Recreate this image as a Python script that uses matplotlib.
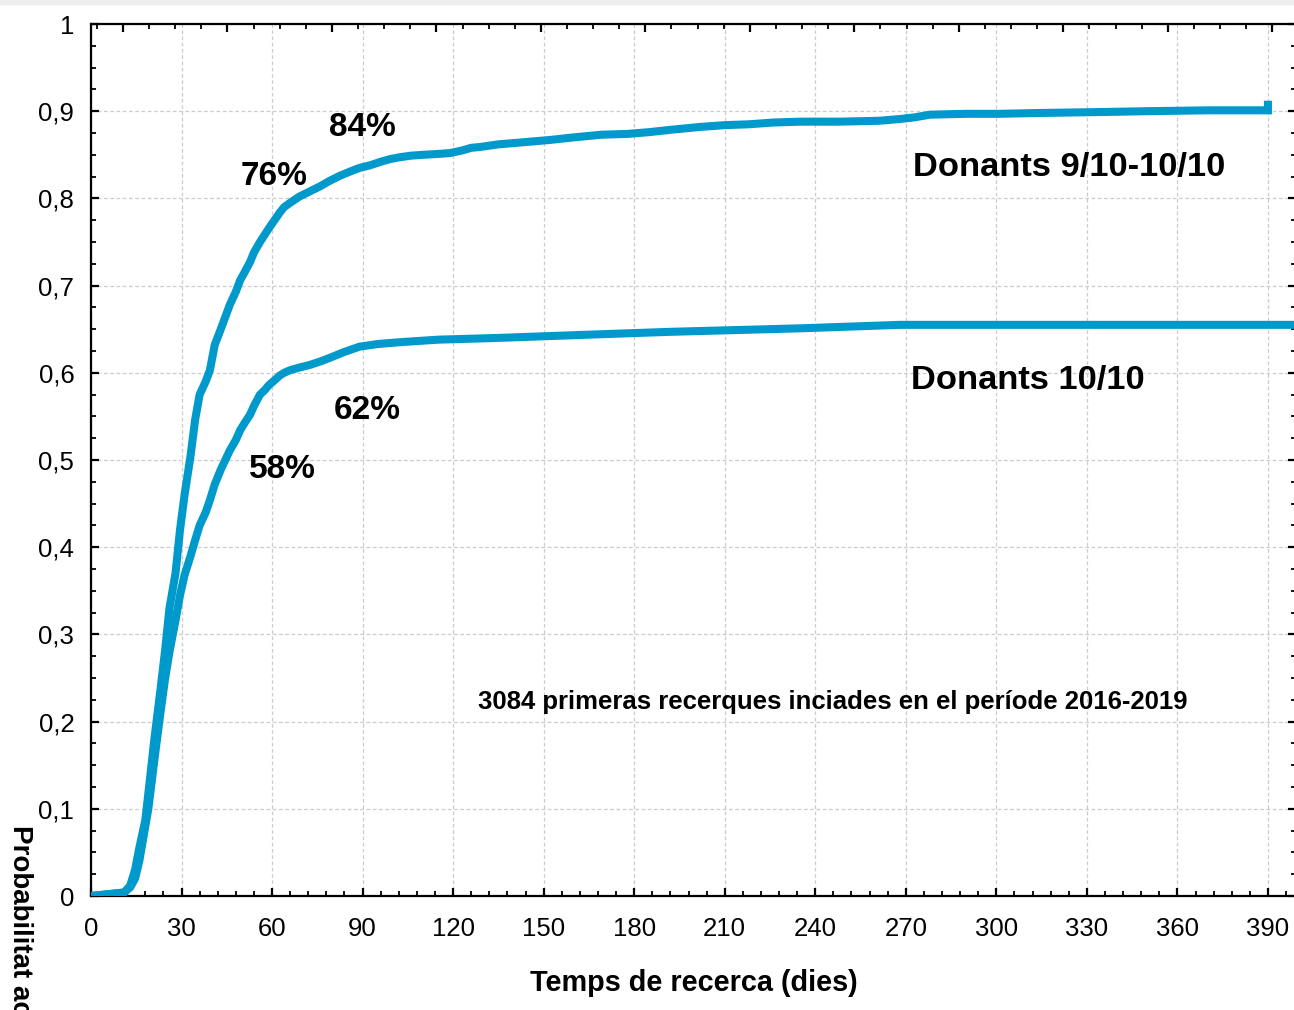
import matplotlib
matplotlib.use("Agg")
import matplotlib.pyplot as plt
from matplotlib.ticker import MultipleLocator, FuncFormatter
from matplotlib.patches import Rectangle

plt.rcParams['font.family'] = ['Liberation Sans', 'DejaVu Sans']

# 1. dades llegides del gràfic (dies, probabilitat acumulada)
dies_9_10 = [0, 11, 13, 14.6, 16, 18, 19.5, 21, 23, 24.5, 26, 28, 29.5, 31, 33, 34.5, 36,
             38, 39.4, 41, 43, 44.5, 46, 48, 49.4, 51, 52.7, 54, 56, 57.5, 59, 61, 62.6, 64, 66,
             69, 72.5, 76, 79, 82.5, 86, 89, 92.5, 96, 99, 102, 106, 110, 115, 119, 123, 126, 129,
             135, 142, 152, 160, 169, 178, 185, 193, 202, 210, 218, 226, 235, 248, 261, 268, 273,
             278, 290, 301, 315, 334, 350, 370, 390, 390]
prob_9_10 = [0, 0.004, 0.012, 0.03, 0.055, 0.087, 0.133, 0.18, 0.236, 0.28, 0.33, 0.37, 0.42,
             0.46, 0.505, 0.546, 0.575, 0.59, 0.603, 0.632, 0.65, 0.664, 0.678, 0.693, 0.706,
             0.716, 0.727, 0.738, 0.75, 0.758, 0.766, 0.776, 0.784, 0.79, 0.795, 0.802, 0.808,
             0.814, 0.82, 0.826, 0.831, 0.835, 0.838, 0.842, 0.845, 0.847, 0.849, 0.85, 0.851,
             0.852, 0.855, 0.858, 0.859, 0.862, 0.864, 0.867, 0.87, 0.873, 0.874, 0.876, 0.879,
             0.882, 0.884, 0.885, 0.887, 0.888, 0.888, 0.889, 0.891, 0.893, 0.896, 0.897, 0.897,
             0.898, 0.899, 0.9, 0.901, 0.901, 0.912]

dies_10_10 = [0, 11, 13, 14.6, 16, 17.5, 19, 21, 23, 24.5, 26, 28, 29.5, 31, 33, 34.5, 36, 38,
              39.4, 41, 43, 44.5, 46, 48, 49.4, 51, 52.7, 54, 56, 57.5, 59, 61, 62.6, 64, 66,
              69, 72.5, 76, 79, 84, 89, 95, 102, 115, 135, 159, 192, 235, 268, 399.3]
prob_10_10 = [0, 0.004, 0.01, 0.02, 0.04, 0.07, 0.1, 0.156, 0.21, 0.248, 0.28, 0.316, 0.345,
              0.368, 0.39, 0.408, 0.425, 0.44, 0.454, 0.472, 0.489, 0.5, 0.511, 0.523, 0.534,
              0.543, 0.552, 0.562, 0.575, 0.58, 0.586, 0.592, 0.597, 0.6, 0.603, 0.606, 0.609,
              0.613, 0.617, 0.624, 0.63, 0.633, 0.635, 0.638, 0.64, 0.643, 0.647, 0.651, 0.655,
              0.655]

color_linia = '#0099cc'

# 2. figura
fig = plt.figure(figsize=(12.94, 10.10), dpi=100)
ax = fig.add_axes([91 / 1294, 114 / 1010, 1205 / 1294, 872 / 1010])

ax.plot(dies_9_10, prob_9_10, color=color_linia, lw=5.8, solid_capstyle='butt',
        solid_joinstyle='miter', zorder=3)
ax.plot(dies_10_10, prob_10_10, color=color_linia, lw=5.8, solid_capstyle='butt',
        solid_joinstyle='miter', zorder=3)

ax.set_xlim(0, 399.3)
ax.set_ylim(0, 1)

ax.xaxis.set_major_locator(MultipleLocator(30))
ax.xaxis.set_minor_locator(MultipleLocator(6))
ax.yaxis.set_major_locator(MultipleLocator(0.1))
ax.yaxis.set_minor_locator(MultipleLocator(0.025))

def fmt_coma(v, pos):
    if abs(v) < 1e-9:
        return '0'
    if abs(v - 1) < 1e-9:
        return '1'
    return f'{v:.1f}'.replace('.', ',')

ax.yaxis.set_major_formatter(FuncFormatter(fmt_coma))

ax.tick_params(which='major', direction='in', length=6, width=1.6, labelsize=18.5,
               right=True, top=False)
ax.tick_params(which='minor', direction='in', length=3.5, width=1.3, right=True, top=False)
ax.tick_params(axis='x', which='major', pad=15)
ax.tick_params(axis='y', which='major', pad=12)

for s in ax.spines.values():
    s.set_linewidth(1.6)

ax.grid(True, which='major', linestyle=(0, (3, 2)), color='#cccccc', linewidth=0.9, zorder=0)

# eix superior amb una altra escala
ax_top = ax.twiny()
ax_top.set_xlim(ax.get_xlim())
ax_top.set_xticks([10.6 + 34.62 * i for i in range(12)])
ax_top.set_xticks([10.6 - 8.655 + 8.655 * i for i in range(46)], minor=True)
ax_top.tick_params(which='major', direction='in', length=6, width=1.6, labeltop=False)
ax_top.tick_params(which='minor', direction='in', length=3.5, width=1.3)
for s in ax_top.spines.values():
    s.set_visible(False)

# 3. textos
ax.text(60.6, 0.825, '76%', fontsize=24, fontweight='bold', va='center', ha='center')
ax.text(89.8, 0.881, '84%', fontsize=24, fontweight='bold', va='center', ha='center')
ax.text(91.5, 0.557, '62%', fontsize=24, fontweight='bold', va='center', ha='center')
ax.text(63.3, 0.489, '58%', fontsize=24, fontweight='bold', va='center', ha='center')
ax.text(272.5, 0.835, 'Donants 9/10-10/10', fontsize=24.8, fontweight='bold', va='center',
        ha='left')
ax.text(271.8, 0.591, 'Donants 10/10', fontsize=24.8, fontweight='bold', va='center', ha='left')
ax.text(245.8, 0.223, '3084 primeras recerques inciades en el període 2016-2019', fontsize=18.5,
        fontweight='bold', va='center', ha='center')

ax.set_xlabel('Temps de recerca (dies)', fontsize=20.8, fontweight='bold', labelpad=20)
fig.text(20 / 1294, 1 - 825 / 1010, 'Probabilitat acumulada', rotation=270, fontsize=20,
         fontweight='bold', va='top', ha='center')

# franja grisa de dalt
fig.patches.append(Rectangle((0, 1 - 4 / 1010), 1, 4 / 1010, transform=fig.transFigure,
                             color='#eeeeee', zorder=0))

fig.savefig('out.png', dpi=100)
